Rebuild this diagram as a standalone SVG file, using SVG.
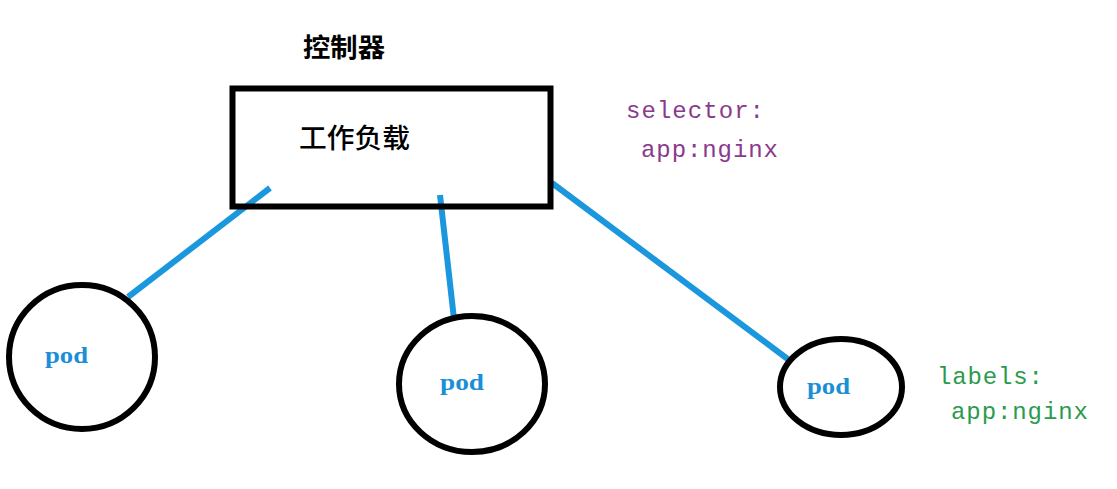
<svg xmlns="http://www.w3.org/2000/svg" width="1117" height="489" viewBox="0 0 1117 489">
<style>
.node{fill:none;stroke:#000;stroke-width:6}
.conn{stroke:#1a97dd;stroke-width:6;stroke-linecap:butt}
.cjk{font-family:"Noto Sans CJK SC","Liberation Sans",sans-serif;fill:#000}
.pod{font-family:"Liberation Serif",serif;font-size:24px;font-weight:bold;fill:#1a8fd6}
.mono{font-family:"Liberation Mono",monospace;font-size:24px}
</style>
<rect width="1117" height="489" fill="#fff"/>
<g id="connectors">
<line class="conn" x1="270" y1="188" x2="128" y2="297"/>
<line class="conn" x1="440" y1="195" x2="454" y2="319"/>
<line class="conn" x1="552" y1="183" x2="789" y2="360"/>
</g>
<g id="title"><text class="cjk" x="303" y="57" font-size="26" font-weight="bold" textLength="82" lengthAdjust="spacingAndGlyphs">控制器</text></g>
<g id="workload">
<rect class="node" x="232.5" y="88.5" width="318" height="118" stroke-width="7"/>
<text class="cjk" x="299" y="148" font-size="27" font-weight="500" textLength="111" lengthAdjust="spacingAndGlyphs">工作负载</text>
</g>
<g id="pod1">
<ellipse class="node" cx="82" cy="357" rx="73" ry="72"/>
<text class="pod" x="45" y="363" textLength="43" lengthAdjust="spacingAndGlyphs">pod</text>
</g>
<g id="pod2">
<ellipse class="node" cx="472" cy="384" rx="73" ry="68"/>
<text class="pod" x="440" y="390" textLength="44" lengthAdjust="spacingAndGlyphs">pod</text>
</g>
<g id="pod3">
<ellipse class="node" cx="841" cy="387" rx="61" ry="48"/>
<text class="pod" x="807" y="394" textLength="43" lengthAdjust="spacingAndGlyphs">pod</text>
</g>
<g id="selector" fill="#8a3a8c">
<text class="mono" x="626" y="118" textLength="138" lengthAdjust="spacing">selector:</text>
<text class="mono" x="641" y="157" textLength="137" lengthAdjust="spacing">app:nginx</text>
</g>
<g id="labels" fill="#2a9b4c">
<text class="mono" x="937" y="384" textLength="106" lengthAdjust="spacing">labels:</text>
<text class="mono" x="951" y="419" textLength="137" lengthAdjust="spacing">app:nginx</text>
</g>
</svg>
